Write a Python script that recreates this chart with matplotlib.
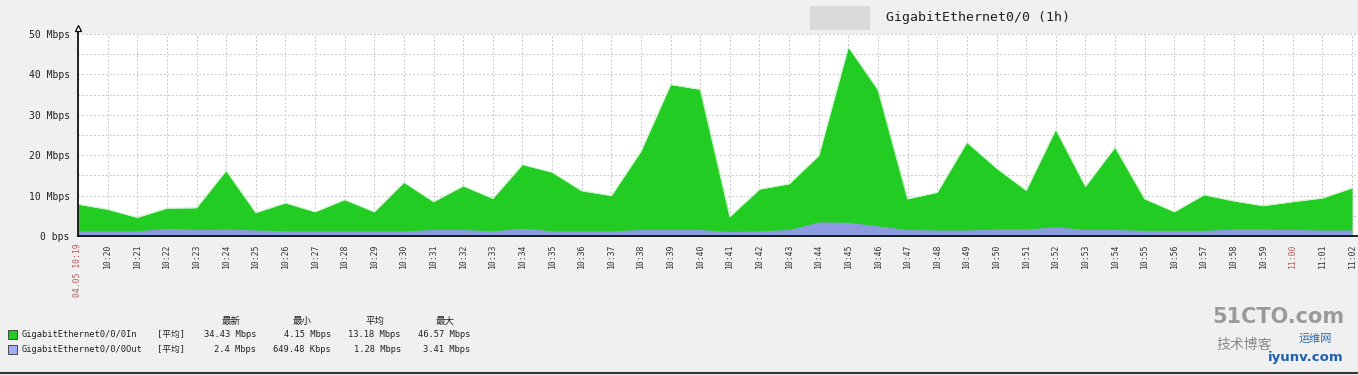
import matplotlib
matplotlib.use("Agg")
import matplotlib.pyplot as plt
from matplotlib.patches import Rectangle

W, H = 1358, 375

# minutes since 10:19
MINUTES = list(range(44))
TICK_LABELS = ["04.05 10:19"] + [f"10:{m}" for m in range(20, 60)] + ["11:00", "11:01", "11:02"]
RED_TICKS = {0, 41}

# Mbps
TRAFFIC_IN = [7.9, 6.6, 4.6, 6.9, 7.0, 16.2, 5.8, 8.2, 6.0, 9.0,
              6.0, 13.3, 8.5, 12.4, 9.3, 17.7, 15.8, 11.2, 10.0, 21.0,
              37.5, 36.3, 4.8, 11.6, 12.9, 19.9, 46.8, 36.2, 9.2, 10.8,
              23.2, 16.8, 11.3, 26.4, 12.3, 22.0, 9.2, 6.0, 10.2, 8.7,
              7.5, 8.5, 9.4, 11.9]
TRAFFIC_OUT = [1.3, 1.3, 1.3, 1.9, 1.6, 1.7, 1.5, 1.3, 1.3, 1.3,
               1.3, 1.3, 1.6, 1.6, 1.3, 1.9, 1.3, 1.3, 1.3, 1.6,
               1.6, 1.6, 1.1, 1.3, 1.6, 3.5, 3.4, 2.5, 1.6, 1.5,
               1.5, 1.7, 1.7, 2.3, 1.6, 1.6, 1.4, 1.4, 1.4, 1.7,
               1.7, 1.6, 1.5, 1.5]

Y_TICKS = [0, 10, 20, 30, 40, 50]
Y_LABELS = ["0 bps", "10 Mbps", "20 Mbps", "30 Mbps", "40 Mbps", "50 Mbps"]
Y_MINOR = [5, 15, 25, 35, 45]

SERIES = ["GigabitEthernet0/0/0In", "GigabitEthernet0/0/0Out"]
COLUMNS = ["最新", "最小", "平均", "最大"]
STATS = [["34.43 Mbps", "4.15 Mbps", "13.18 Mbps", "46.57 Mbps"],
         ["2.4 Mbps", "649.48 Kbps", "1.28 Mbps", "3.41 Mbps"]]

GREEN = "#22cc22"
BLUE = "#8c9be0"
MONO = ["DejaVu Sans Mono", "Noto Sans CJK SC"]


def px(x, y):
    return x / W, 1 - y / H


fig = plt.figure(figsize=(W / 100, H / 100), dpi=100, facecolor="#f0f0f0")
ax = fig.add_axes([78 / W, 1 - 236 / H, (W - 78) / W, 202 / H])
ax.set_facecolor("white")

ax.fill_between(MINUTES, TRAFFIC_IN, color=GREEN, lw=0, zorder=2)
ax.plot(MINUTES, TRAFFIC_IN, color="#ccf5cc", lw=0.8, zorder=2)
ax.fill_between(MINUTES, TRAFFIC_OUT, color=BLUE, lw=0, zorder=3)

ax.set_xlim(0, 43.2)
ax.set_ylim(0, 50)
ax.set_xticks(MINUTES)
ax.set_xticklabels(TICK_LABELS, rotation=90, fontsize=5.9, family="DejaVu Sans Mono", color="#333333")
for i, lab in enumerate(ax.get_xticklabels()):
    if i in RED_TICKS:
        lab.set_color("#b35c5c")
ax.set_yticks(Y_TICKS)
ax.set_yticklabels(Y_LABELS, fontsize=7, family="DejaVu Sans Mono", color="#222222")
ax.set_yticks(Y_MINOR, minor=True)
ax.tick_params(axis="both", which="both", length=0)
ax.tick_params(axis="x", pad=5.5)
ax.tick_params(axis="y", pad=6)

ax.grid(True, which="both", color="#c8c8c8", lw=0.7, linestyle=(0, (2, 2)), zorder=1)
ax.set_axisbelow(True)
for side in ("top", "right"):
    ax.spines[side].set_visible(False)
ax.spines["left"].set_linewidth(1.2)
ax.spines["bottom"].set_linewidth(1.2)
ax.spines["left"].set_bounds(0, 50.6)
ax.spines["left"].set_zorder(5)
ax.spines["bottom"].set_zorder(5)
ax.plot([0], [51.5], marker="^", ms=5, mfc="white", mec="black", mew=0.9, clip_on=False, zorder=6)

# title with the greyed-out host name in front of it
fig.patches.append(Rectangle(px(810, 30), 60 / W, 24 / H, transform=fig.transFigure,
                             color="#dadada", lw=0))
fig.text(*px(886, 18), "GigabitEthernet0/0 (1h)", fontsize=9.5, family="DejaVu Sans Mono",
         color="#222222", va="center", ha="left")

# legend block
col_right = [256, 331, 401, 470]
col_head = [231, 302, 375, 445]
for x, name in zip(col_head, COLUMNS):
    fig.text(*px(x, 321), name, fontsize=6.8, family=MONO, color="#222222", ha="center", va="center")
for row, (name, color, vals) in enumerate(zip(SERIES, [GREEN, "#a4aaf5"], STATS)):
    y = 334.5 + row * 15
    fig.patches.append(Rectangle(px(8, y + 4.5), 9 / W, 9 / H, transform=fig.transFigure,
                                 facecolor=color, edgecolor="#333333", lw=0.6))
    fig.text(*px(22, y), name, fontsize=6.3, family=MONO, color="#222222", va="center")
    fig.text(*px(157, y), "[平均]", fontsize=6.3, family=MONO, color="#222222", va="center")
    for x, v in zip(col_right, vals):
        fig.text(*px(x, y), v, fontsize=6.3, family=MONO, color="#222222", ha="right", va="center")

# watermark
fig.text(*px(1278, 317), "51CTO.com", fontsize=15, weight="bold", family="DejaVu Sans",
         color="#9a9a9a", ha="center", va="center")
fig.text(*px(1244, 345), "技术博客", fontsize=10, family=MONO, color="#8a8a8a", ha="center", va="center")
fig.text(*px(1315, 339), "运维网", fontsize=8, family=MONO, color="#2a6ab0", ha="center", va="center")
fig.text(*px(1306, 358), "iyunv.com", fontsize=9.5, weight="bold", family="DejaVu Sans",
         color="#1d5fb0", ha="center", va="center")

fig.add_artist(plt.Line2D([0, 1], [1 - 373 / H] * 2, transform=fig.transFigure, color="#333333", lw=1.5))

fig.savefig("out.png", dpi=100, facecolor=fig.get_facecolor())
